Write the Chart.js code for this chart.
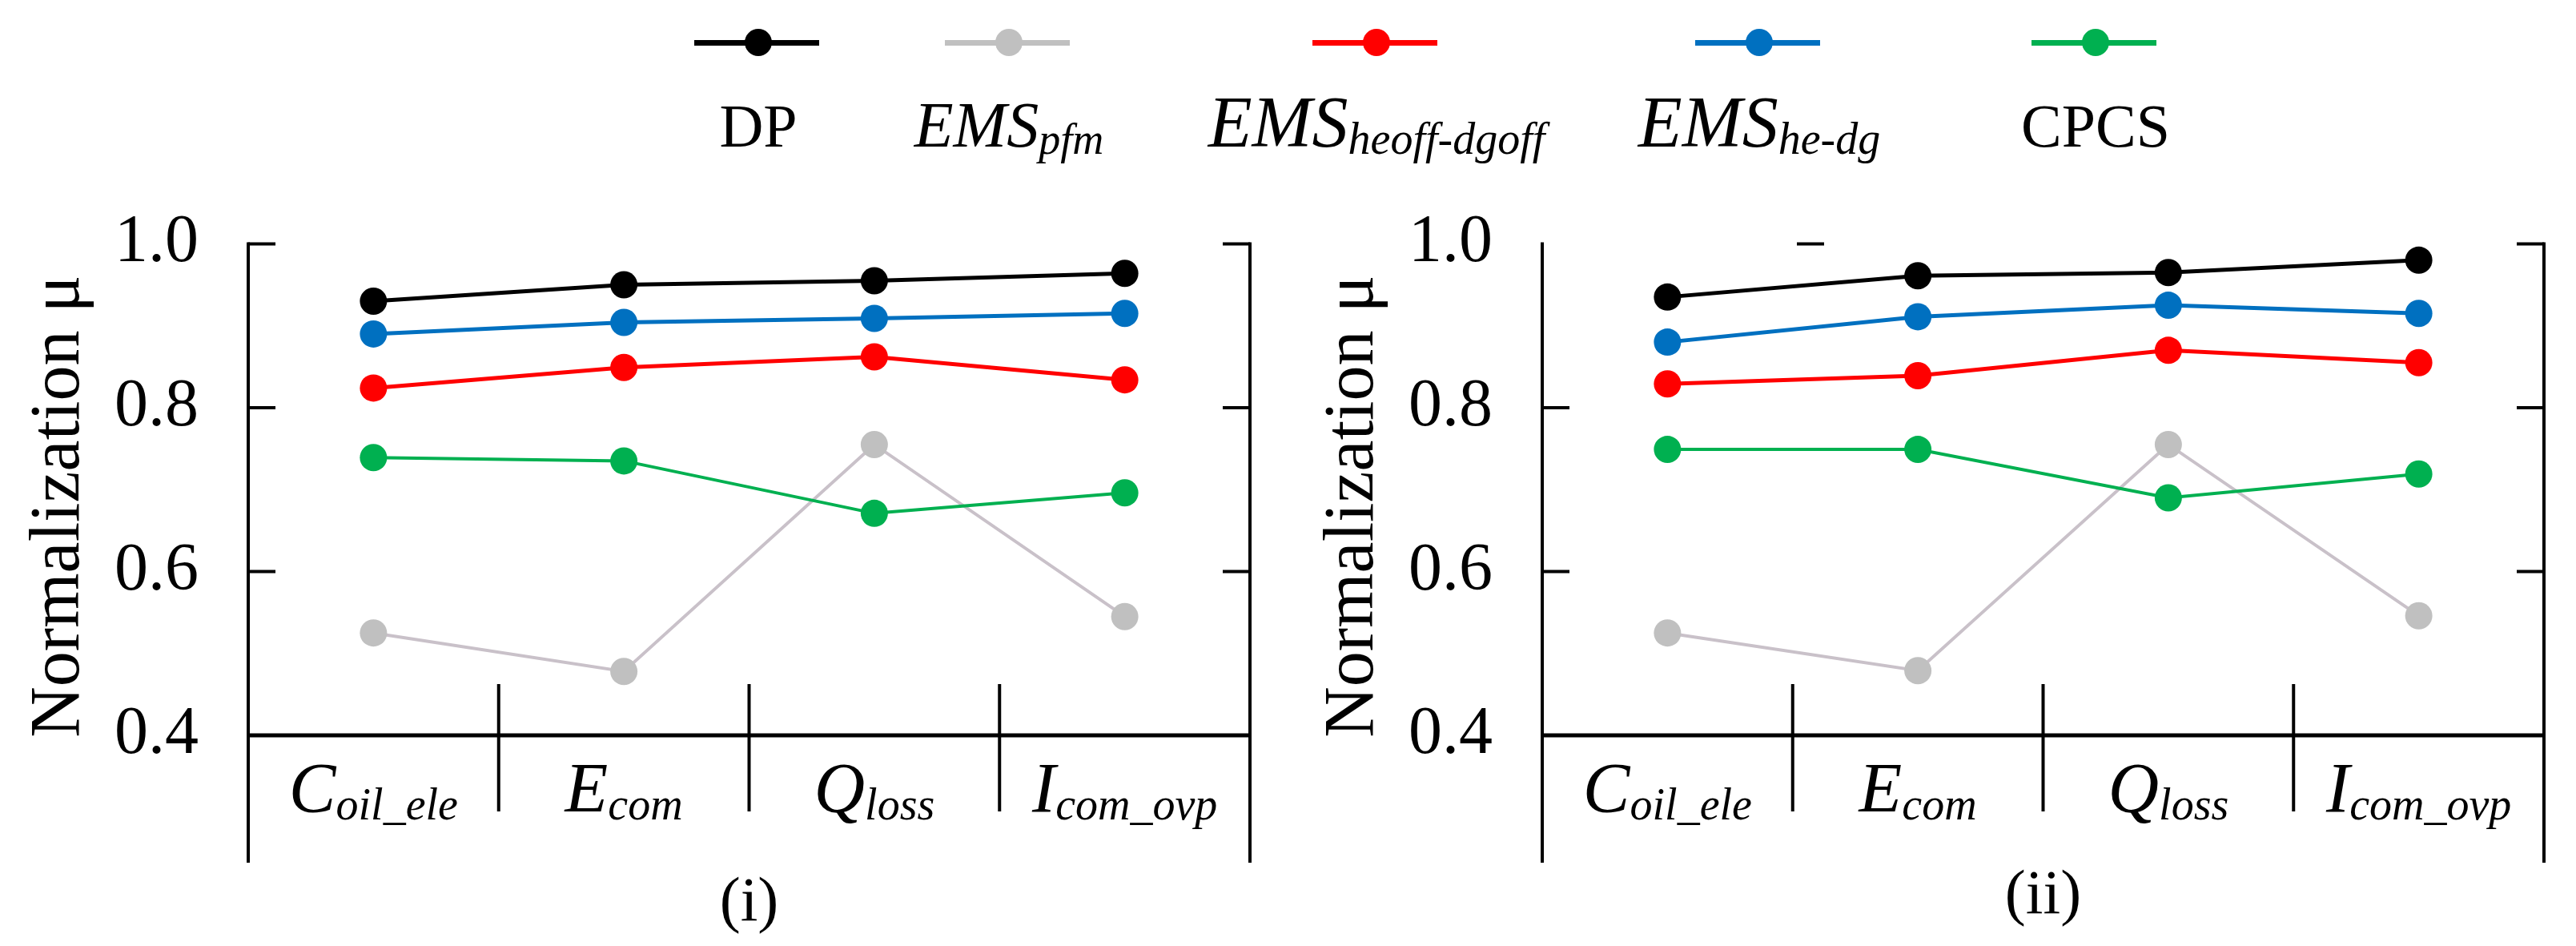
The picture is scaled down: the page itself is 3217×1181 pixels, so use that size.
<!DOCTYPE html>
<html>
<head>
<meta charset="utf-8">
<script src="https://cdn.jsdelivr.net/npm/chart.js@4.4.1/dist/chart.umd.min.js"></script>
<style>
  html, body { margin: 0; padding: 0; background: #fff; }
  body { width: 3217px; height: 1181px; position: relative; overflow: hidden; font-family: "Liberation Serif", serif; color: #000; }
  .panel { position: absolute; top: 200px; height: 981px; }
  .lg-line { position: absolute; height: 7px; }
  .lg-dot { position: absolute; width: 34px; height: 34px; border-radius: 50%; }
  .lg-text { position: absolute; width: 700px; text-align: center; line-height: 1; white-space: nowrap; }
  .lg-text .sub { position: relative; top: 9px; }
</style>
</head>
<body>
<div id="legend"></div>
<div class="panel" style="left:0;width:1610px"><canvas id="chart1"></canvas></div>
<div class="panel" style="left:1616px;width:1601px"><canvas id="chart2"></canvas></div>
<script>
// categories on the x axis (main letter + subscript)
const categoryMain = ['C', 'E', 'Q', 'I'];
const categorySub = ['oil_ele', 'com', 'loss', 'com_ovp'];
const yTickValues = [0.4, 0.6, 0.8, 1.0];

// series names (main + subscript)
const seriesMain = ['DP', 'EMS', 'EMS', 'EMS', 'CPCS'];
const seriesSub = ['', 'pfm', 'heoff-dgoff', 'he-dg', ''];

// panel (i)
const dpI = [0.930, 0.950, 0.955, 0.964];
const pfmI = [0.525, 0.478, 0.755, 0.545];
const heoffI = [0.824, 0.849, 0.862, 0.834];
const hedgI = [0.890, 0.904, 0.909, 0.915];
const cpcsI = [0.739, 0.735, 0.671, 0.696];

// panel (ii)
const dpII = [0.935, 0.961, 0.965, 0.980];
const pfmII = [0.525, 0.479, 0.755, 0.546];
const heoffII = [0.829, 0.839, 0.870, 0.855];
const hedgII = [0.880, 0.911, 0.925, 0.915];
const cpcsII = [0.749, 0.749, 0.690, 0.719];

const lineColors = ['#000000', '#c9c1c9', '#ff0000', '#0070c0', '#00b050'];
const dotColors = ['#000000', '#c0c0c0', '#ff0000', '#0070c0', '#00b050'];
const lineWidths = [5, 4, 5, 5, 4];
const drawOrder = [0, 2, 1, 1, 1];

const SERIF = '"Liberation Serif", "Times New Roman", serif';

// legend across the top (html)
const legendX = [947, 1260, 1719, 2197, 2617];
const legendMainSize = [76, 80, 90, 90, 76];
const legendSubSize = [0, 54, 56, 56, 0];
const legend = document.getElementById('legend');
seriesMain.forEach((name, k) => {
  const cx = legendX[k];
  const ln = document.createElement('div');
  ln.className = 'lg-line';
  ln.style.left = (cx - 80) + 'px';
  ln.style.width = '156px';
  ln.style.top = '50px';
  ln.style.background = dotColors[k];
  legend.appendChild(ln);
  const dot = document.createElement('div');
  dot.className = 'lg-dot';
  dot.style.left = (cx - 17) + 'px';
  dot.style.top = (53 - 17) + 'px';
  dot.style.background = dotColors[k];
  legend.appendChild(dot);
  const tx = document.createElement('div');
  tx.className = 'lg-text';
  const fs = legendMainSize[k];
  tx.style.fontSize = fs + 'px';
  tx.style.left = (cx - 350) + 'px';
  tx.style.top = Math.round(183 - 0.8375 * fs) + 'px';
  if (seriesSub[k]) {
    tx.style.fontStyle = 'italic';
    tx.innerHTML = name + '<span class="sub" style="font-size:' + legendSubSize[k] + 'px">' + seriesSub[k] + '</span>';
  } else {
    tx.textContent = name;
  }
  legend.appendChild(tx);
});

function line(ctx, x1, y1, x2, y2) {
  ctx.beginPath();
  ctx.moveTo(x1, y1);
  ctx.lineTo(x2, y2);
  ctx.stroke();
}

// axes box, inward ticks, dividers, x labels, y title, panel tag
const framePlugin = {
  id: 'frame',
  beforeDatasetsDraw(chart, args, opts) {
    const ctx = chart.ctx, a = chart.chartArea;
    const xs = chart.scales.x, ys = chart.scales.y;
    const foot = a.bottom + 159;
    ctx.save();
    ctx.strokeStyle = '#000';
    ctx.lineWidth = 4;
    line(ctx, a.left, a.top - 2, a.left, foot);
    line(ctx, a.right, a.top - 2, a.right, foot);
    ctx.lineWidth = 5;
    line(ctx, a.left, a.bottom, a.right, a.bottom);
    ctx.lineWidth = 4;
    for (let i = 1; i < categoryMain.length; i++) {
      const xd = (xs.getPixelForValue(i - 1) + xs.getPixelForValue(i)) / 2;
      line(ctx, xd, a.bottom - 64, xd, a.bottom + 95);
    }
    yTickValues.slice(1).forEach(v => {
      const py = ys.getPixelForValue(v);
      const shift = v === 1.0 ? opts.topTickShift : 0;
      line(ctx, a.left + shift, py, a.left + shift + 34, py);
      line(ctx, a.right, py, a.right - 34, py);
    });
    ctx.restore();
  },
  afterDraw(chart, args, opts) {
    const ctx = chart.ctx, a = chart.chartArea, xs = chart.scales.x;
    ctx.save();
    ctx.fillStyle = '#000';
    ctx.textBaseline = 'alphabetic';
    ctx.textAlign = 'left';
    const mainFont = 'italic 88px ' + SERIF;
    const subFont = 'italic 56px ' + SERIF;
    categoryMain.forEach((m, i) => {
      ctx.font = mainFont;
      const wm = ctx.measureText(m).width;
      ctx.font = subFont;
      const ws = ctx.measureText(categorySub[i]).width;
      const x0 = xs.getPixelForValue(i) - (wm + ws) / 2;
      ctx.font = mainFont;
      ctx.fillText(m, x0, a.bottom + 95);
      ctx.font = subFont;
      ctx.fillText(categorySub[i], x0 + wm, a.bottom + 105);
    });
    // y axis title
    ctx.font = '88px ' + SERIF;
    ctx.textAlign = 'center';
    ctx.translate(a.left - 212, 432);
    ctx.rotate(-Math.PI / 2);
    ctx.fillText('Normalization \u03bc', 0, 0);
    ctx.restore();
    // panel tag
    ctx.save();
    ctx.font = '78px ' + SERIF;
    ctx.fillStyle = '#000';
    ctx.textAlign = 'center';
    ctx.textBaseline = 'middle';
    ctx.fillText(opts.tag, (a.left + a.right) / 2, opts.tagY);
    ctx.restore();
  }
};

function makeChart(id, values, padRight, tag, tagY, topTickShift) {
  return new Chart(document.getElementById(id), {
    type: 'line',
    data: {
      labels: categoryMain.map((m, i) => m + '_' + categorySub[i]),
      datasets: values.map((vals, k) => ({
        label: seriesMain[k] + seriesSub[k],
        data: vals,
        borderColor: lineColors[k],
        backgroundColor: dotColors[k],
        pointBackgroundColor: dotColors[k],
        pointBorderColor: dotColors[k],
        pointBorderWidth: 0,
        pointRadius: 17,
        borderWidth: lineWidths[k],
        tension: 0,
        order: drawOrder[k]
      }))
    },
    options: {
      responsive: true,
      maintainAspectRatio: false,
      animation: false,
      events: [],
      layout: { padding: { left: 0, top: 93, right: padRight, bottom: 0 } },
      plugins: {
        legend: { display: false },
        tooltip: { enabled: false },
        frame: { tag: tag, tagY: tagY, topTickShift: topTickShift }
      },
      scales: {
        x: {
          type: 'category',
          offset: true,
          grid: { display: false },
          border: { display: false },
          ticks: { display: false },
          afterFit(s) { s.height = 263; }
        },
        y: {
          min: 0.4,
          max: 1.0,
          grid: { display: false },
          border: { display: false },
          afterBuildTicks(s) { s.ticks = yTickValues.map(v => ({ value: v })); },
          ticks: {
            callback: v => Number(v).toFixed(1),
            font: { family: SERIF, size: 84 },
            color: '#000',
            padding: 54
          },
          afterFit(s) { s.width = 310; }
        }
      }
    },
    plugins: [framePlugin]
  });
}

makeChart('chart1', [dpI, pfmI, heoffI, hedgI, cpcsI], 49, '(i)', 929, 0);
makeChart('chart2', [dpII, pfmII, heoffII, hedgII, cpcsII], 40, '(ii)', 920, 318);
</script>
</body>
</html>
